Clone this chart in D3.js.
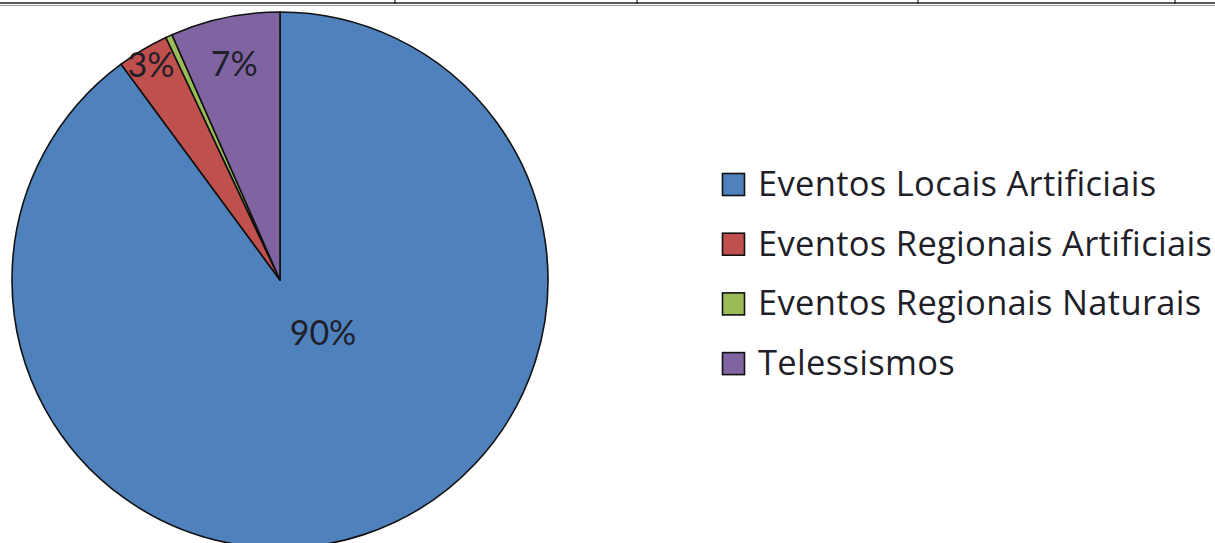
<!DOCTYPE html>
<html>
<head>
<meta charset="utf-8">
<script src="https://cdn.jsdelivr.net/npm/d3@7/dist/d3.min.js"></script>
<style>
  html, body { margin: 0; padding: 0; background: #fff; }
  svg { display: block; }
</style>
</head>
<body>
<svg id="chart" width="1215" height="543"></svg>
<script>
// Event categories and their share of the catalogue (%)
const categories = [
  "Eventos Locais Artificiais",
  "Eventos Regionais Artificiais",
  "Eventos Regionais Naturais",
  "Telessismos"
];
const shares = [89.9, 3.1, 0.4, 6.6];
const colors = ["#4F81BD", "#C0504D", "#9BBB59", "#8064A2"];
// Which slices carry a percentage label
const showLabel = [true, true, false, true];
// Table rule separators above the chart (x positions of cell borders)
const tableCols = [395, 637, 918, 1175];

const svg = d3.select("#chart");
const W = 1215, H = 543;

// Table rule across the top
const rule = svg.append("g");
rule.append("line").attr("x1", 0).attr("x2", W).attr("y1", 3).attr("y2", 3)
  .attr("stroke", "#222").attr("stroke-width", 1.5);
rule.append("line").attr("x1", 0).attr("x2", W).attr("y1", 5.5).attr("y2", 5.5)
  .attr("stroke", "#999").attr("stroke-width", 1.2);
rule.selectAll("line.col").data(tableCols).join("line")
  .attr("class", "col")
  .attr("x1", d => d).attr("x2", d => d).attr("y1", 0).attr("y2", 4)
  .attr("stroke", "#222").attr("stroke-width", 1.2);

// Pie
const cx = 280, cy = 280, R = 268;
const data = categories.map((c, i) => ({ name: c, value: shares[i], color: colors[i], label: showLabel[i] }));
const pie = d3.pie().value(d => d.value).sort(null);
const arcs = pie(data);
const arc = d3.arc().innerRadius(0).outerRadius(R);

const g = svg.append("g").attr("transform", `translate(${cx},${cy})`);
g.selectAll("path").data(arcs).join("path")
  .attr("d", arc)
  .attr("fill", d => d.data.color)
  .attr("stroke", "#111")
  .attr("stroke-width", 1.6)
  .attr("stroke-linejoin", "round");

// Label placement: radius fraction along each slice's mid angle
const labelRadius = [0.25, 0.94, 0.9, 0.83];
const labelAngleShift = [-0.38, 0, 0, 0];
g.selectAll("text").data(arcs.filter(d => d.data.label)).join("text")
  .attr("transform", d => {
    const i = d.index;
    const a = (d.startAngle + d.endAngle) / 2 + labelAngleShift[i];
    const r = R * labelRadius[i];
    return `translate(${r * Math.sin(a)},${-r * Math.cos(a)})`;
  })
  .attr("text-anchor", "middle")
  .attr("dominant-baseline", "central")
  .attr("font-family", "Lato, 'Open Sans', sans-serif")
  .attr("font-size", 34)
  .attr("fill", "#1f1f2a")
  .text(d => Math.round(d.data.value) + "%");

// Legend
const legend = svg.append("g").attr("transform", "translate(722,173)");
const rowStep = 59.7;
const item = legend.selectAll("g").data(data).join("g")
  .attr("transform", (d, i) => `translate(0,${i * rowStep})`);
item.append("rect")
  .attr("x", 0.5).attr("y", 0.5).attr("width", 22).attr("height", 22)
  .attr("fill", d => d.color)
  .attr("stroke", "#111").attr("stroke-width", 1.6);
item.append("text")
  .attr("x", 36).attr("y", 23)
  .attr("font-family", "'Open Sans', Lato, sans-serif")
  .attr("font-size", 34.5)
  .attr("letter-spacing", 0.3)
  .attr("fill", "#1f1f2a")
  .text(d => d.name);
</script>
</body>
</html>
